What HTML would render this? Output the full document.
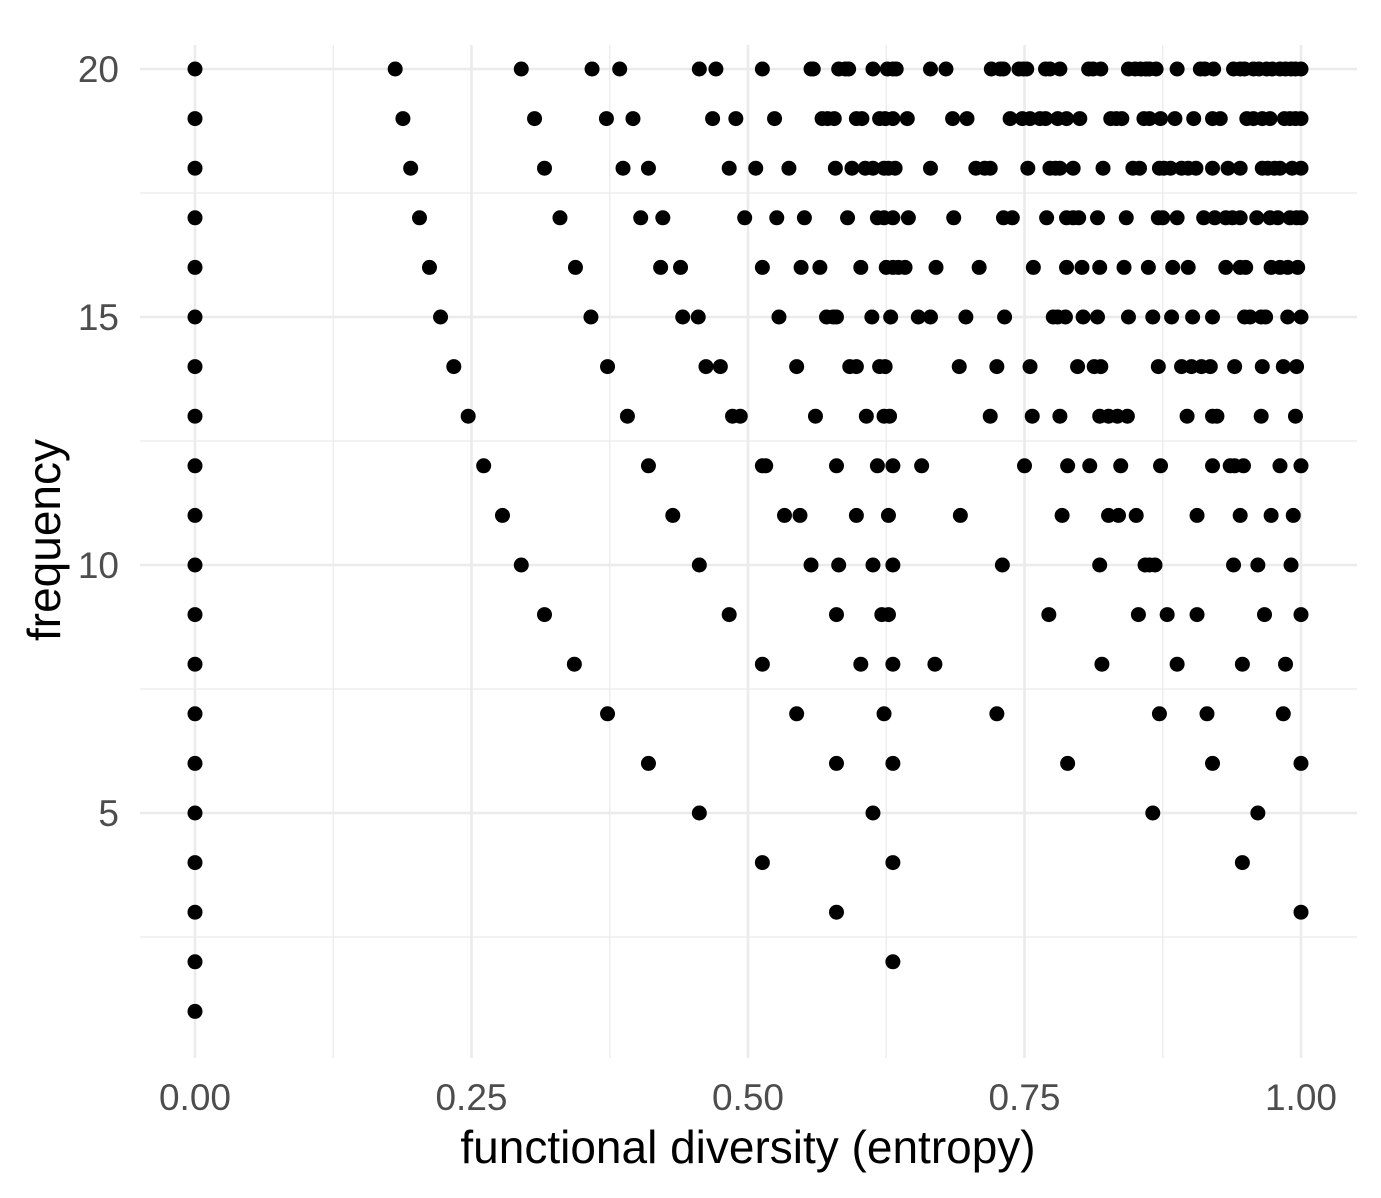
<!DOCTYPE html>
<html><head><meta charset="utf-8"><style>
html,body{margin:0;padding:0;background:#fff;}
svg text{font-family:"Liberation Sans",Arial,sans-serif;}
</style></head><body>
<svg id="chart" width="1381" height="1193" xmlns="http://www.w3.org/2000/svg">
<rect width="1381" height="1193" fill="#fff"/>
<g id="grid"></g>
<g id="points"></g>
<g id="axes"></g>
<text x="748" y="1163" font-size="46" text-anchor="middle" fill="#000">functional diversity (entropy)</text>
<text transform="translate(60,540) rotate(-90)" font-size="46" text-anchor="middle" fill="#000">frequency</text>
</svg>
<script>
const xTicks=[0,0.25,0.5,0.75,1];
const xTickLabels=["0.00","0.25","0.50","0.75","1.00"];
const yTicks=[5,10,15,20];
const yTickLabels=["5","10","15","20"];
const frequencies=[20,19,18,17,16,15,14,13,12,11,10,9,8,7,6,5,4,3,2,1];
const row20=[0,.181,.295,.359,.384,.456,.471,.513,.557,.559,.582,.588,.591,.613,.626,.631,.634,.665,.679,.720,.728,.731,.745,.749,.752,.769,.773,.782,.808,.812,.819,.844,.850,.855,.860,.863,.869,.888,.909,.913,.921,.939,.945,.949,.957,.962,.969,.974,.981,.986,.991,.995,1];
const row19=[0,.188,.307,.372,.396,.468,.489,.524,.567,.572,.578,.598,.603,.619,.624,.631,.644,.685,.698,.737,.748,.755,.764,.769,.780,.788,.800,.828,.833,.838,.858,.863,.873,.886,.903,.920,.927,.951,.957,.965,.972,.985,.990,.995,1];
const row18=[0,.195,.316,.387,.410,.483,.507,.537,.579,.594,.606,.613,.623,.627,.633,.665,.706,.714,.719,.753,.773,.778,.782,.794,.821,.848,.854,.872,.876,.882,.892,.898,.905,.920,.934,.945,.965,.970,.976,.981,.992,1];
const row17=[0,.203,.330,.403,.423,.497,.526,.551,.590,.617,.623,.631,.645,.686,.731,.739,.770,.788,.794,.799,.816,.842,.871,.875,.888,.912,.922,.932,.938,.945,.960,.972,.979,.990,.996,1];
const row16=[0,.212,.344,.421,.439,.513,.548,.565,.602,.625,.631,.636,.642,.670,.709,.758,.788,.802,.818,.840,.862,.884,.898,.932,.945,.950,.973,.981,.988,.997];
const row15=[0,.222,.358,.441,.455,.528,.571,.577,.580,.612,.629,.654,.665,.697,.732,.776,.780,.787,.803,.816,.844,.866,.883,.902,.920,.949,.954,.964,.968,.988,1];
const row14=[0,.234,.373,.462,.475,.544,.592,.598,.619,.624,.691,.725,.755,.798,.813,.819,.871,.892,.901,.910,.918,.940,.965,.984,.996];
const row13=[0,.247,.391,.486,.493,.561,.607,.623,.628,.719,.757,.782,.818,.826,.834,.843,.897,.920,.924,.964,.995];
const row12=[0,.261,.410,.513,.516,.580,.617,.631,.657,.750,.789,.809,.837,.873,.920,.936,.940,.948,.981,1];
const row11=[0,.278,.432,.533,.547,.598,.627,.692,.784,.826,.835,.851,.906,.945,.973,.993];
const row10=[0,.295,.456,.557,.582,.613,.631,.730,.818,.859,.863,.868,.939,.961,.991];
const row9=[0,.316,.483,.580,.621,.627,.772,.853,.879,.906,.967,1];
const row8=[0,.343,.513,.602,.631,.669,.820,.888,.947,.986];
const row7=[0,.373,.544,.623,.725,.872,.915,.984];
const row6=[0,.410,.580,.631,.789,.920,1];
const row5=[0,.456,.613,.866,.961];
const row4=[0,.513,.631,.947];
const row3=[0,.580,1];
const row2=[0,.631];
const row1=[0];
const rows=[row20,row19,row18,row17,row16,row15,row14,row13,row12,row11,row10,row9,row8,row7,row6,row5,row4,row3,row2,row1];

const NS="http://www.w3.org/2000/svg";
const P={l:140,r:1357,t:45,b:1058};
function sx(v){return 195+v*1106;}
function sy(v){return 69+(20-v)*49.6;}
function mk(tag,attrs,parent){const e=document.createElementNS(NS,tag);for(const k in attrs)e.setAttribute(k,attrs[k]);parent.appendChild(e);return e;}
const grid=document.getElementById('grid');
const axes=document.getElementById('axes');
for(let i=0;i<xTicks.length-1;i++){
  const m=(xTicks[i]+xTicks[i+1])/2;
  const l=mk('line',{x1:sx(m),x2:sx(m),y1:P.t,y2:P.b,stroke:'#ebebeb','stroke-width':1.3},grid);
  
  
}
[2.5,7.5,12.5,17.5].forEach(m=>{
  const l=mk('line',{x1:P.l,x2:P.r,y1:sy(m),y2:sy(m),stroke:'#ebebeb','stroke-width':1.3},grid);
  
  
});
xTicks.forEach((t,i)=>{
  const l=mk('line',{x1:sx(t),x2:sx(t),y1:P.t,y2:P.b,stroke:'#ebebeb','stroke-width':2.6},grid);
  
  
  const tx=mk('text',{x:sx(t),y:1110,'font-size':37,'text-anchor':'middle',fill:'#4d4d4d'},axes);
  tx.textContent=xTickLabels[i];
  
  
});
yTicks.forEach((t,i)=>{
  const l=mk('line',{x1:P.l,x2:P.r,y1:sy(t),y2:sy(t),stroke:'#ebebeb','stroke-width':2.6},grid);
  
  
  const tx=mk('text',{x:119,y:sy(t)+13,'font-size':37,'text-anchor':'end',fill:'#4d4d4d'},axes);
  tx.textContent=yTickLabels[i];
  
  
});
const pts=document.getElementById('points');
rows.forEach((row,ri)=>{
  const f=frequencies[ri];
  row.forEach(v=>{
    const c=mk('circle',{cx:sx(v),cy:sy(f),r:7.5,fill:'#000'},pts);
    
    
  });
});
</script>
</body></html>
